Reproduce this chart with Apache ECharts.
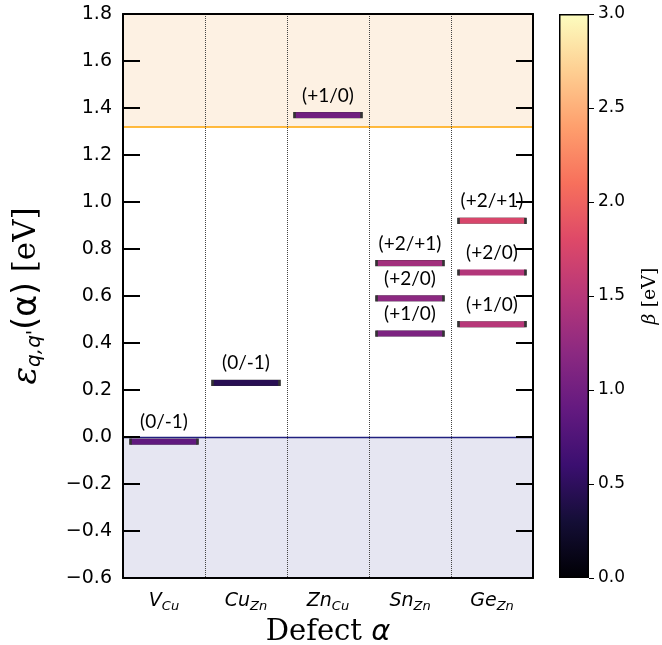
<!DOCTYPE html>
<html>
<head>
<meta charset="utf-8">
<script src="https://cdn.jsdelivr.net/npm/echarts@6/dist/echarts.min.js"></script>
<style>html,body{margin:0;padding:0;background:#fff}#c{width:662px;height:645px}</style>
</head>
<body>
<div id="c"></div>
<script>
// ---- data ----
const defectMain = ['V', 'Cu', 'Zn', 'Sn', 'Ge'];
const defectSub = ['Cu', 'Zn', 'Cu', 'Zn', 'Zn'];
const levelDefect = [0, 1, 2, 3, 3, 3, 4, 4, 4];
const levelEnergy = [-0.02, 0.23, 1.37, 0.74, 0.59, 0.44, 0.92, 0.70, 0.48];
const levelLabel = ['(0/-1)', '(0/-1)', '(+1/0)', '(+2/+1)', '(+2/0)', '(+1/0)', '(+2/+1)', '(+2/0)', '(+1/0)'];
const levelBeta = [0.88, 0.45, 1.0, 1.35, 1.2, 1.08, 1.75, 1.47, 1.5];
const bandGap = 1.32;
const yMin = -0.6, yMax = 1.8, yStep = 0.2;
const betaMin = 0, betaMax = 3, betaStep = 0.5;
const magma = ['#000004', '#140e36', '#3b0f70', '#641a80', '#8c2981', '#b73779', '#de4968', '#f7705c', '#fe9f6d', '#fecf92', '#fcfdbf'];

const categories = defectMain.map((m, i) => m + '_' + defectSub[i]);
const levelData = levelEnergy.map((e, i) => [levelDefect[i], e, levelBeta[i], levelLabel[i]]);
const fmt = v => (v < 0 ? '\u2212' : '') + Math.abs(v).toFixed(1);

const chart = echarts.init(document.getElementById('c'));
const axisLineStyle = { color: '#000', width: 2 };
chart.setOption({
  animation: false,
  backgroundColor: '#fff',
  grid: [
    { left: 123, top: 14, width: 410, height: 564, outerBoundsMode: 'none', containLabel: false },
    { left: 559, top: 14, width: 30, height: 564, outerBoundsMode: 'none', containLabel: false }
  ],
  visualMap: {
    show: false, type: 'continuous', min: betaMin, max: betaMax, dimension: 2, seriesIndex: 0,
    inRange: { color: magma }
  },
  xAxis: [
    {
      type: 'category', gridIndex: 0, position: 'bottom', data: categories, boundaryGap: true, z: 10,
      axisLine: { onZero: false, lineStyle: axisLineStyle }, axisTick: { show: false },
      splitLine: { show: true, interval: 0, lineStyle: { type: 'dotted', color: '#444', width: 1 } },
      axisLabel: {
        interval: 0, margin: 11,
        formatter: function (v, i) { return '{m|' + defectMain[i] + '}{s|' + defectSub[i] + '}'; },
        rich: {
          m: { fontFamily: 'DejaVu Sans', fontStyle: 'italic', fontSize: 19, color: '#000', lineHeight: 24 },
          s: { fontFamily: 'DejaVu Sans', fontStyle: 'italic', fontSize: 13, color: '#000', lineHeight: 14, verticalAlign: 'bottom' }
        }
      },
      name: '{a|Defect }{b|\u03b1}', nameLocation: 'middle', nameGap: 35,
      nameTextStyle: {
        rich: {
          a: { fontFamily: 'DejaVu Serif', fontSize: 29, color: '#000' },
          b: { fontFamily: 'DejaVu Sans', fontStyle: 'italic', fontSize: 29, color: '#000' }
        }
      }
    },
    {
      type: 'category', gridIndex: 0, position: 'top', data: categories, boundaryGap: true, z: 10,
      axisLine: { onZero: false, lineStyle: axisLineStyle }, axisTick: { show: false }, axisLabel: { show: false }, splitLine: { show: false }
    },
    {
      type: 'category', gridIndex: 1, data: ['cb'], show: false, boundaryGap: true
    }
  ],
  yAxis: [
    {
      type: 'value', gridIndex: 0, position: 'left', min: yMin, max: yMax, interval: yStep, z: 10,
      axisLine: { show: true, onZero: false, lineStyle: axisLineStyle },
      axisTick: { show: true, inside: true, length: 17, lineStyle: { color: '#000', width: 2 } },
      splitLine: { show: false },
      axisLabel: { formatter: fmt, fontFamily: 'DejaVu Sans', fontSize: 19, color: '#000', margin: 11 },
      name: '{e|\u03b5}{s|q,q\'}{p|(\u03b1)}{b| [eV]}', nameLocation: 'middle', nameRotate: 90, nameGap: 78,
      nameTextStyle: {
        rich: {
          e: { fontFamily: 'DejaVu Serif', fontStyle: 'italic', fontSize: 33, color: '#000', lineHeight: 36 },
          s: { fontFamily: 'DejaVu Sans', fontStyle: 'italic', fontSize: 20, color: '#000', lineHeight: 19, verticalAlign: 'bottom' },
          p: { fontFamily: 'DejaVu Sans', fontSize: 33, color: '#000', lineHeight: 36 },
          b: { fontFamily: 'DejaVu Serif', fontSize: 31, color: '#000', lineHeight: 36 }
        }
      }
    },
    {
      type: 'value', gridIndex: 0, position: 'right', min: yMin, max: yMax, interval: yStep, z: 10,
      axisLine: { show: true, onZero: false, lineStyle: axisLineStyle },
      axisTick: { show: true, inside: true, length: 17, lineStyle: { color: '#000', width: 2 } },
      splitLine: { show: false }, axisLabel: { show: false }
    },
    {
      type: 'value', gridIndex: 1, position: 'right', min: betaMin, max: betaMax, interval: betaStep,
      axisLine: { show: false, onZero: false },
      axisTick: { show: true, length: 5, lineStyle: { color: '#000', width: 1 } },
      splitLine: { show: false },
      axisLabel: { formatter: v => v.toFixed(1), fontFamily: 'DejaVu Sans', fontSize: 17, color: '#000', margin: 9 },
      name: '{b|\u03b2}{a| [eV]}', nameLocation: 'middle', nameRotate: 90, nameGap: 52,
      nameTextStyle: {
        rich: {
          b: { fontFamily: 'DejaVu Serif', fontStyle: 'italic', fontSize: 19, color: '#000' },
          a: { fontFamily: 'DejaVu Serif', fontSize: 19, color: '#000' }
        }
      }
    }
  ],
  series: [
    {
      type: 'scatter', xAxisIndex: 0, yAxisIndex: 0, data: levelData, z: 5,
      symbol: 'rect', symbolSize: [67, 6],
      itemStyle: { borderColor: '#333', borderWidth: 0.8, opacity: 1 },
      label: {
        show: true, position: 'top', distance: 7,
        formatter: p => p.data[3],
        fontFamily: 'Lato', fontSize: 19, color: '#000'
      }
    },
    {
      type: 'scatter', xAxisIndex: 0, yAxisIndex: 0, data: [], silent: true,
      markArea: {
        silent: true,
        data: [
          [{ yAxis: bandGap, itemStyle: { color: '#fdf1e3' } }, { yAxis: yMax }],
          [{ yAxis: yMin, itemStyle: { color: '#e6e6f2' } }, { yAxis: 0 }]
        ]
      },
      markLine: {
        silent: true, symbol: 'none', label: { show: false },
        data: [
          { yAxis: bandGap, lineStyle: { color: '#ffa500', width: 1.5, type: 'solid' } },
          { yAxis: 0, lineStyle: { color: '#20207f', width: 1.3, type: 'solid' } }
        ]
      }
    },
    {
      type: 'bar', xAxisIndex: 2, yAxisIndex: 2, data: [betaMax], barWidth: '100%', silent: true,
      itemStyle: {
        borderColor: '#000', borderWidth: 1.5,
        color: new echarts.graphic.LinearGradient(0, 0, 0, 1,
          magma.slice().reverse().map((c, i, a) => ({ offset: i / (a.length - 1), color: c })))
      }
    }
  ]
});
</script>
</body>
</html>
